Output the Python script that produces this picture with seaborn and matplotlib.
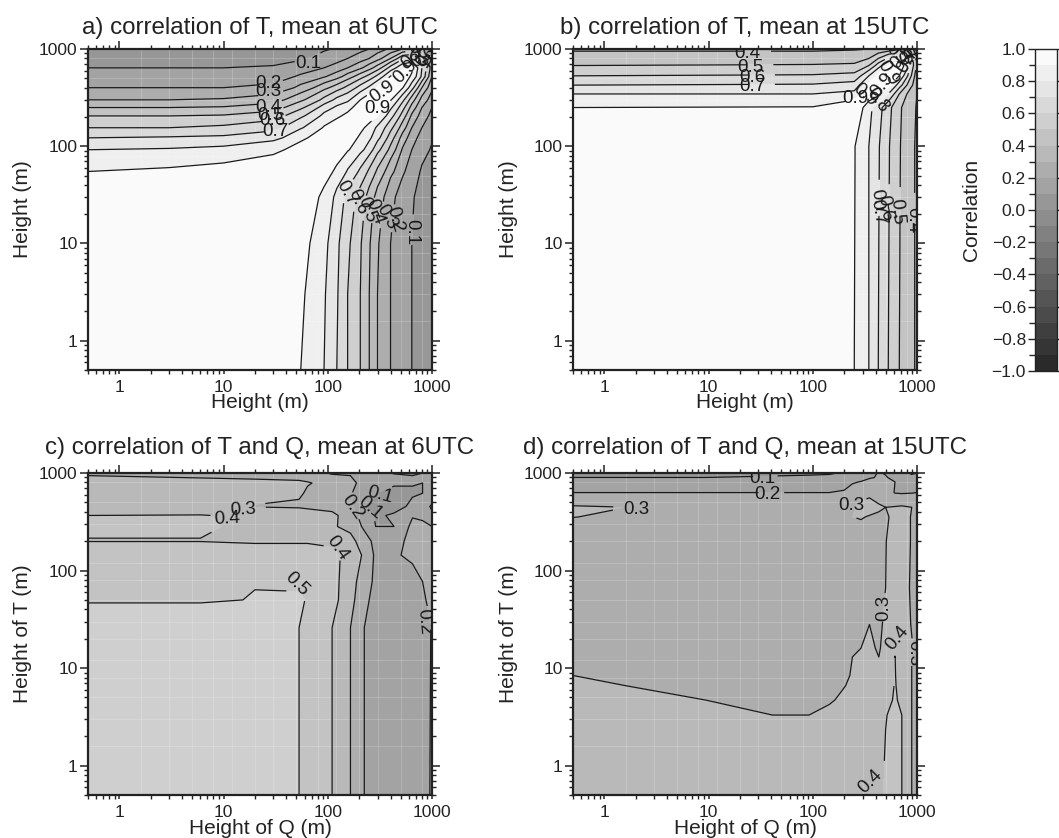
import numpy as np
import matplotlib
matplotlib.use("Agg")
import matplotlib.pyplot as plt
import seaborn as sns

sns.set_theme(style="ticks")
plt.rcParams['font.family'] = ['Liberation Sans', 'DejaVu Sans']

# ---------- data ----------
heights_a = [0.5, 3, 10, 30, 55, 92, 122, 155, 205, 250, 300, 400, 520, 640, 800, 1000]
upper_a = [
    [.97, .97, .97, .96, .90, .80, .70, .60, .50, .40, .30, .20, .14, .10, .06, .04],
    [.98, .975, .965, .915, .81, .71, .60, .50, .40, .30, .20, .14, .10, .06, .04],
    [.98, .97, .935, .83, .72, .62, .51, .41, .31, .20, .14, .10, .06, .04],
    [.98, .955, .88, .77, .67, .56, .46, .36, .23, .15, .11, .065, .04],
    [.99, .94, .88, .79, .68, .58, .48, .33, .22, .14, .09, .06],
    [.99, .96, .91, .83, .75, .63, .47, .29, .20, .13, .09],
    [.99, .96, .88, .82, .73, .55, .36, .24, .16, .11],
    [.99, .93, .86, .78, .63, .45, .30, .20, .13],
    [.99, .97, .90, .74, .56, .38, .25, .17],
    [.99, .97, .82, .64, .46, .30, .20],
    [.99, .91, .73, .55, .36, .25],
    [.99, .91, .74, .50, .32],
    [.97, .88, .68, .40],
    [.93, .70, .45],
    [.60, .30],
    [.20],
]

heights_b = [0.5, 100, 250, 345, 425, 530, 676, 800, 950, 1000]
upper_b = [
    [.97, .97, .90, .80, .70, .60, .50, .44, .40, .38],
    [.98, .905, .80, .71, .61, .51, .44, .40, .38],
    [.99, .83, .74, .63, .52, .45, .41, .39],
    [.99, .93, .80, .60, .50, .42, .40],
    [.99, .93, .75, .60, .46, .42],
    [.99, .90, .72, .50, .45],
    [.97, .85, .55, .48],
    [.80, .55, .45],
    [.50, .40],
    [.35],
]

q_heights_c = [0.5, 6, 20, 53, 64, 110, 165, 224, 288, 432, 650, 812, 1000]
t_heights_c = [0.5, 26, 50, 77, 144, 201, 283, 367, 454, 620, 790, 940, 1000]
corr_c = [
    [.56, .56, .56, .50, .47, .40, .30, .20, .16, .13, .14, .17, .21],
    [.56, .56, .55, .50, .48, .40, .30, .20, .16, .13, .14, .17, .205],
    [.49, .49, .505, .52, .49, .43, .33, .22, .17, .14, .14, .19, .22],
    [.46, .46, .495, .47, .46, .43, .34, .24, .18, .14, .17, .20, .24],
    [.44, .44, .44, .44, .44, .42, .37, .28, .18, .19, .22, .24, .25],
    [.398, .398, .39, .39, .39, .38, .33, .24, .17, .18, .22, .24, .25],
    [.41, .41, .37, .36, .36, .31, .27, .18, .10, .10, .23, .21, .20],
    [.40, .405, .36, .35, .35, .32, .25, .14, .09, .11, .19, .19, .19],
    [.36, .32, .295, .29, .28, .27, .22, .10, .08, .07, .12, .17, .21],
    [.33, .33, .33, .31, .29, .26, .21, .12, .10, .09, .09, .10, .15],
    [.31, .31, .31, .31, .305, .27, .22, .17, .13, .105, .105, .10, .13],
    [.30, .295, .29, .28, .27, .21, .20, .16, .13, .11, .10, .12, .13],
    [.27, .27, .26, .25, .23, .19, .17, .15, .12, .095, .09, .10, .12],
]

q_heights_d = [0.5, 1.6, 9.4, 41, 92, 144, 200, 240, 290, 350, 430, 500, 615, 715, 890, 1000]
t_heights_d = [0.5, 3.3, 4.7, 6.6, 8.4, 13, 16, 28, 66, 200, 355, 445, 630, 810, 900, 1000]
corr_d = [
    [.36, .36, .36, .35, .35, .35, .35, .35, .36, .37, .38, .41, .44, .40, .30, .27],
    [.335, .33, .31, .30, .30, .31, .32, .33, .34, .35, .36, .395, .43, .40, .30, .27],
    [.32, .315, .30, .29, .29, .295, .31, .32, .33, .34, .35, .375, .41, .38, .30, .27],
    [.31, .30, .29, .28, .28, .285, .298, .31, .32, .33, .34, .36, .405, .37, .30, .27],
    [.30, .295, .285, .275, .275, .28, .29, .305, .315, .325, .335, .355, .403, .365, .30, .27],
    [.29, .285, .275, .27, .27, .275, .285, .30, .31, .32, .30, .34, .401, .36, .30, .27],
    [.285, .28, .27, .265, .265, .27, .28, .29, .30, .315, .29, .335, .39, .35, .305, .275],
    [.28, .275, .265, .26, .26, .265, .27, .275, .285, .30, .28, .32, .36, .34, .295, .26],
    [.27, .27, .26, .255, .255, .26, .265, .27, .275, .28, .29, .30, .33, .33, .29, .25],
    [.27, .27, .26, .25, .25, .255, .26, .265, .27, .28, .29, .298, .33, .33, .295, .25],
    [.301, .285, .26, .25, .25, .255, .26, .30, .305, .295, .29, .295, .31, .33, .295, .26],
    [.31, .299, .255, .245, .24, .245, .255, .29, .32, .33, .31, .30, .305, .31, .30, .25],
    [.20, .20, .20, .20, .20, .20, .205, .24, .27, .28, .26, .24, .195, .19, .195, .20],
    [.12, .12, .12, .12, .12, .13, .18, .19, .205, .23, .23, .21, .20, .17, .16, .17],
    [.10, .10, .10, .105, .105, .11, .12, .13, .16, .19, .21, .205, .18, .14, .12, .13],
    [.08, .08, .085, .09, .095, .095, .105, .12, .15, .18, .205, .195, .15, .12, .09, .10],
]

titles = ["a) correlation of T, mean at 6UTC", "b) correlation of T, mean at 15UTC",
          "c) correlation of T and Q, mean at 6UTC", "d) correlation of T and Q, mean at 15UTC"]
x_labels = ["Height (m)", "Height (m)", "Height of Q (m)", "Height of Q (m)"]
y_labels = ["Height (m)", "Height (m)", "Height of T (m)", "Height of T (m)"]
log_ticks = [1, 10, 100, 1000]
cbar_ticks = [-1.0, -0.8, -0.6, -0.4, -0.2, 0.0, 0.2, 0.4, 0.6, 0.8, 1.0]
sample_heights = [1.6, 3, 5, 8, 12, 20, 30, 50, 80, 120, 200, 300, 500, 800]


def mirror(upper):
    n = len(upper)
    m = np.zeros((n, n))
    for i, row in enumerate(upper):
        for k, v in enumerate(row):
            m[i, i + k] = v
            m[i + k, i] = v
    return m


# ---------- style ----------
W, H = 1059, 838
levels_fill = np.round(np.arange(-1, 1.01, 0.1), 1)
levels_line = np.round(np.arange(0.1, 0.95, 0.1), 1)
cmap = matplotlib.colors.ListedColormap(sns.blend_palette(["#2a2a2a", "#fafafa"], 20))
norm = matplotlib.colors.BoundaryNorm(levels_fill, 20)

fig = plt.figure(figsize=(W / 100, H / 100), dpi=100, facecolor="white")


def px_axes(l, t, r, b):
    return fig.add_axes([l / W, 1 - b / H, (r - l) / W, (b - t) / H])


boxes = [(88, 49, 432, 370), (573, 49, 917, 370), (88, 473, 432, 795), (573, 473, 917, 795)]
title_pads = [11, 11, 14, 14]
fields = [
    (heights_a, heights_a, mirror(upper_a)),
    (heights_b, heights_b, mirror(upper_b)),
    (q_heights_c, t_heights_c, np.array(corr_c)),
    (q_heights_d, t_heights_d, np.array(corr_d)),
]
# label placement on the page: x pixel, y pixel, rotation, and optionally the point that picks the contour
label_px = [
    [(308, 63, 0), (268, 83, 0), (268, 91, 0), (268, 107, 0), (270, 115, 0), (272, 120, 0), (275, 131, 0),
     (382, 92, 35), (377, 108, 0), (405, 72, 45), (413, 57, 45), (418, 55, -60), (423, 58, 30), (426, 53, 70),
     (420, 60, -30),
     (347, 193, -60), (358, 202, -65), (367, 210, -70), (375, 212, -70), (387, 217, -60), (395, 220, -75),
     (412, 232, -90)],
    [(747, 53, 0), (750, 67, 0), (752, 77, 0), (752, 86, 0), (855, 98, 0), (865, 95, -40), (877, 100, -55),
     (882, 85, 50), (888, 73, -60),
     (902, 58, 45), (898, 55, -40), (908, 60, 60), (905, 52, -70), (912, 57, 20),
     (878, 202, -80), (878, 212, -80), (885, 208, -80), (897, 212, -85), (913, 220, -90)],
    [(243, 510, 3), (227, 519, 3), (297, 584, -45), (337, 548, -55), (352, 507, -55), (370, 508, -40),
     (380, 495, -15), (424, 622, -85)],
    [(762, 478, 0), (767, 494, 0), (636, 509, 0), (851, 505, 0), (884, 608, 90), (897, 638, 50, 892, 672),
     (870, 782, 45), (914, 653, -90)],
]

for i, ((x, y, z), box) in enumerate(zip(fields, boxes)):
    ax = px_axes(*box)
    cf = ax.contourf(x, y, z, levels=levels_fill, cmap=cmap, norm=norm)
    ax.set_xscale("log")
    ax.set_yscale("log")
    ax.set_xlim(0.5, 1000)
    ax.set_ylim(0.5, 1000)
    ax.vlines(sample_heights, 0.5, 1000, color="white", lw=0.6, alpha=0.22)
    ax.hlines(sample_heights, 0.5, 1000, color="white", lw=0.6, alpha=0.22)
    cs = ax.contour(x, y, z, levels=levels_line, colors="#1a1a1a", linewidths=0.9)
    fig.canvas.draw()
    inv = ax.transData.inverted()
    shown = [tuple(inv.transform((e[0], H - e[1]))) for e in label_px[i]]
    picks = [tuple(inv.transform((e[-2], H - e[-1]))) if len(e) == 5 else s
             for e, s in zip(label_px[i], shown)]
    texts = ax.clabel(cs, manual=picks, fmt="%.1f", fontsize=13.5, inline=True, inline_spacing=1,
                      colors="#1a1a1a")
    for t, p, e in zip(texts, shown, label_px[i]):
        t.set_position(p)
        t.set_rotation(e[2])

    ax.set_xticks(log_ticks)
    ax.set_yticks(log_ticks)
    ax.set_xticklabels([str(t) for t in log_ticks])
    ax.set_yticklabels([str(t) for t in log_ticks])
    ax.xaxis.set_minor_locator(matplotlib.ticker.LogLocator(base=10, subs=np.arange(2, 10), numticks=12))
    ax.yaxis.set_minor_locator(matplotlib.ticker.LogLocator(base=10, subs=np.arange(2, 10), numticks=12))
    ax.xaxis.set_minor_formatter(matplotlib.ticker.NullFormatter())
    ax.yaxis.set_minor_formatter(matplotlib.ticker.NullFormatter())
    ax.tick_params(which="major", direction="out", top=True, right=True, length=6, width=1.1,
                   labelsize=12.5, color="#222222", labelcolor="#222222", pad=1.5)
    ax.tick_params(which="minor", direction="out", top=True, right=True, bottom=True, left=True,
                   length=3, width=1.0, color="#222222")
    for t in ax.xaxis.get_major_ticks():
        t.tick1line.set_markersize(3)
    for s in ax.spines.values():
        s.set_linewidth(1.6)
        s.set_color("#222222")
    ax.set_title(titles[i], fontsize=17.4, pad=title_pads[i], color="#222222")
    ax.set_xlabel(x_labels[i], fontsize=15, color="#222222", va="center")
    ax.set_ylabel(y_labels[i], fontsize=15, color="#222222", va="center")
    ax.xaxis.set_label_coords(0.5, -33 / (box[3] - box[1]))
    ax.yaxis.set_label_coords(-65 / (box[2] - box[0]), 0.5)

cax = px_axes(1035, 49, 1057, 371)
cb = fig.colorbar(cf, cax=cax, ticks=cbar_ticks, drawedges=False, spacing="proportional")
cb.ax.yaxis.set_ticks_position("left")
cb.ax.yaxis.set_label_position("left")
cb.ax.set_yticklabels([f"{t:.1f}".replace("-", "\u2212") for t in cbar_ticks])
cb.ax.tick_params(axis="y", which="major", direction="out", left=True, right=True, length=5, width=1.0,
                  labelsize=12.5, color="#222222", labelcolor="#222222", pad=1.5)
cb.outline.set_linewidth(1.0)
cb.outline.set_edgecolor("#222222")
cb.set_label("Correlation", fontsize=15, color="#222222", va="center")
cb.ax.yaxis.set_label_coords((972 - 1035) / 22, 0.5)

fig.savefig("out.png", dpi=100)
